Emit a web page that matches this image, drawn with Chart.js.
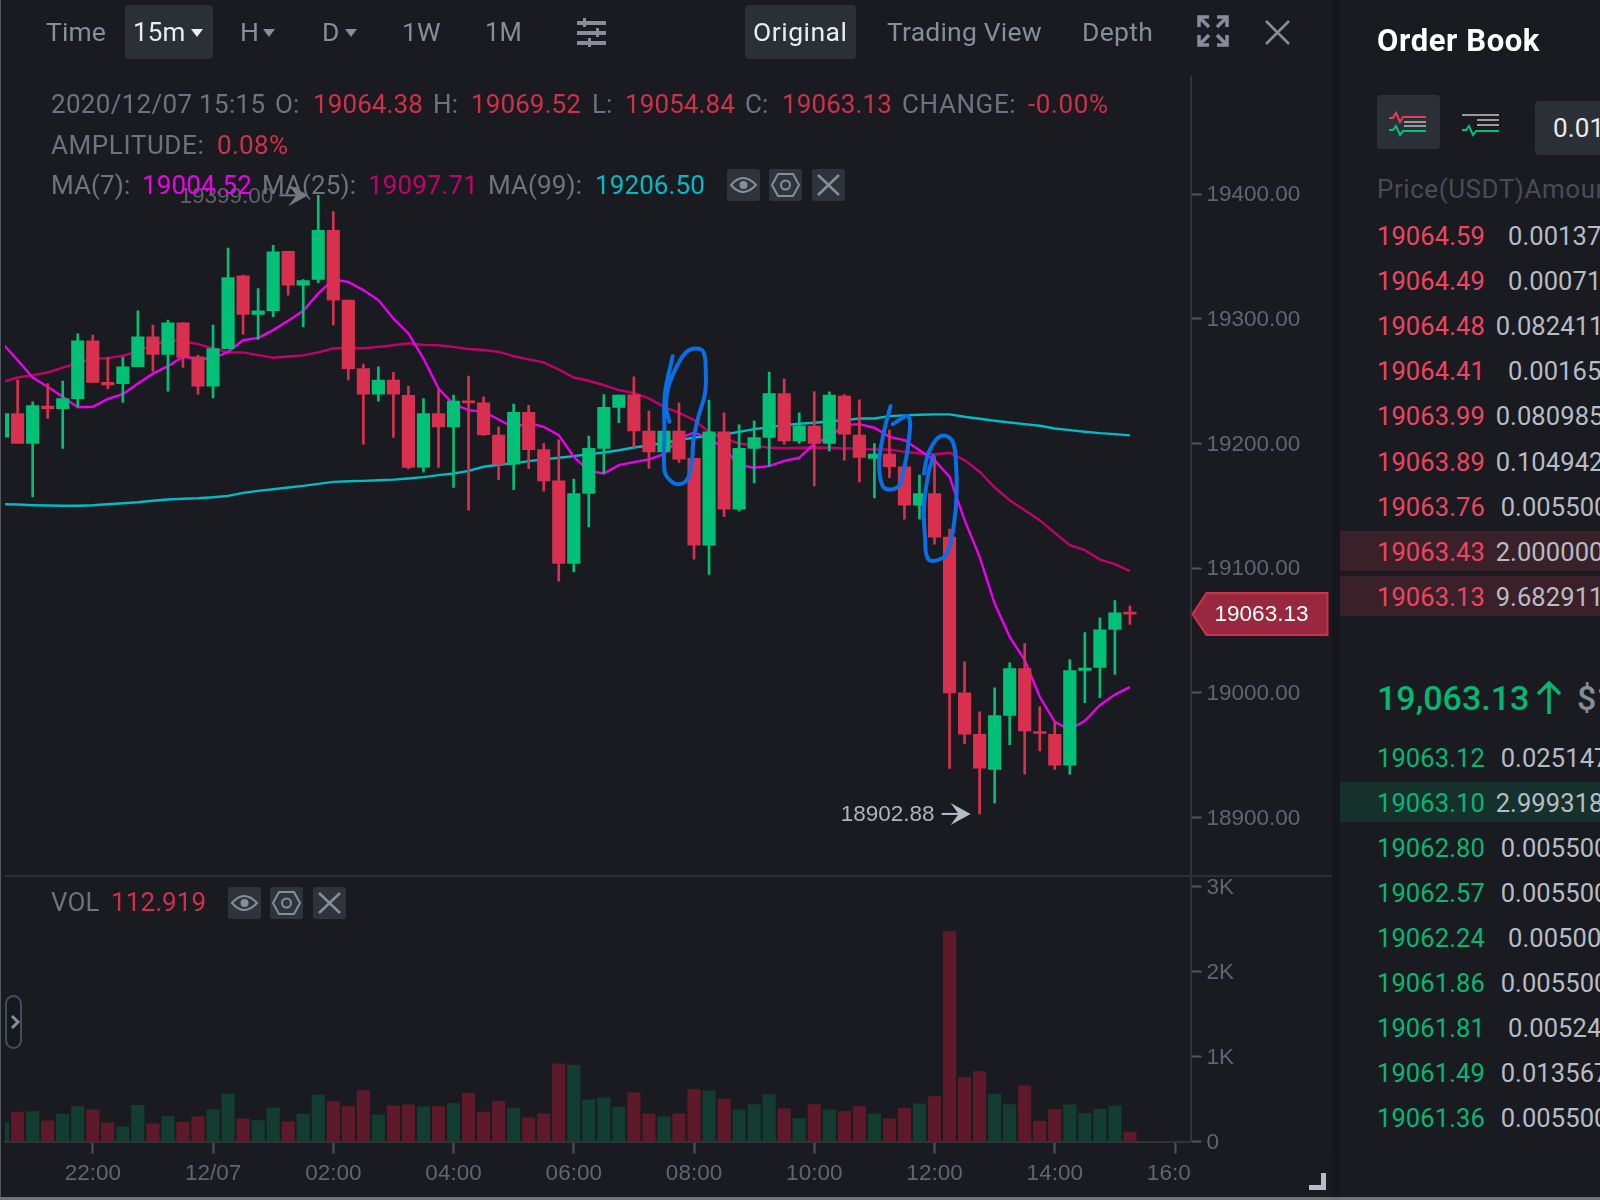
<!DOCTYPE html>
<html>
<head>
<meta charset="utf-8">
<style>
html,body{margin:0;padding:0;background:#191b21;width:1600px;height:1200px;overflow:hidden}
#stage{position:relative;width:1600px;height:1200px;overflow:hidden;font-family:Roboto,sans-serif}
#myChart{position:absolute;left:0;top:0}
.t{position:absolute;white-space:nowrap;line-height:40px;height:40px}
.abs{position:absolute}
</style>
</head>
<body>
<div id="stage">
<canvas id="myChart" width="1340" height="1200"></canvas>
</div>
<script src="https://cdn.jsdelivr.net/npm/chart.js@4"></script>
<script>
// candles, 15m, 2020/12/06 20:30 -> 2020/12/07 15:15
const candleOpen = [19205,19224,19200,19230,19228,19236,19282.3,19249,19248,19261.5,19285.5,19271.4,19296.7,19269.5,19246,19276,19334.5,19303.4,19306.4,19354,19327,19331.5,19371,19315,19260,19239.5,19250.8,19238.5,19181,19224,19213.3,19234,19232.6,19206.7,19183.4,19225,19195,19170,19103.7,19159.9,19196,19228.9,19239,19210,19193.3,19210,19188,19118.4,19209.3,19147.3,19196,19204.8,19240,19202,19213.9,19200,19238,19206.7,19188,19191.4,19181.3,19150.5,19159.9,19124.9,19000,18966.8,18938.5,18981.8,19019.5,18968.7,18966.8,18942,19017.9,19020.3,19050.8,19064.38]
const candleHigh = [19224,19250.8,19233.4,19248,19250,19288,19287,19269,19269,19306.4,19295,19299,19296.7,19270.8,19295,19356.6,19335,19324.3,19358.8,19354,19331.5,19399,19386,19315,19263.6,19261.5,19257,19246,19236,19243,19238.8,19254,19237.4,19213.3,19231.5,19230.5,19200,19203,19171.4,19205.9,19239.3,19238.8,19253.5,19226,19210,19232.6,19188,19234.7,19224.6,19215,19218.2,19257.2,19251.6,19224.6,19241.7,19241.4,19239.3,19235,19200,19210.7,19181.8,19174.6,19189.8,19131.3,19024.8,18984.7,19004,19024,19039.6,18988.7,18976.7,19026.7,19048.4,19060.1,19074,19069.52]
const candleLow = [19205,19200,19157.2,19220,19196,19229.4,19249,19244,19233,19261.5,19258,19242,19261,19239.5,19236.6,19276,19287.7,19283.4,19301.6,19319,19293.5,19329,19295,19251,19199.4,19234,19204.8,19179.6,19177,19180.7,19164.7,19146.5,19206.4,19171,19163,19179.7,19161.8,19089.5,19097,19133,19176,19216.6,19196.8,19180,19193.3,19184.7,19107.2,19094.9,19141.2,19145.7,19168.4,19181.8,19199.4,19200,19166,19194,19186.6,19169.2,19156.4,19172.5,19139.3,19139.3,19119.2,18939.3,18959.3,18902.88,18911.7,18958.5,18934.7,18953.4,18938.5,18934.7,18992.2,18996.2,19014.7,19054.84]
const candleClose = [19224,19200,19230.4,19228,19236,19282.3,19249,19247,19261.5,19285.5,19271.4,19296.7,19269,19246,19276,19333,19303.4,19306.4,19353.7,19327,19330.7,19371,19315,19260,19239.5,19250.8,19239.5,19180.7,19224,19213.3,19234,19232.6,19207,19183.4,19225,19195,19170,19103.7,19159.9,19196,19228.9,19238.8,19210,19193.3,19210,19187.4,19118.4,19209.3,19147.3,19196,19204.8,19240,19202,19213.9,19200,19238.8,19207.5,19188.8,19191.4,19181.3,19150.5,19159.9,19124.9,19000,18966.8,18939.6,18981.8,19019.5,18969.5,18967.4,18942,19017.9,19019.8,19050.5,19064.2,19063.13]
const volumes = [223,345,353,243,321,412,372,220,172,427,208,294,227,290,376,557,267,247,396,231,321,545,470,415,600,314,419,431,408,412,447,568,345,474,392,278,325,913,898,490,513,404,572,325,290,325,611,596,498,372,435,553,384,274,435,372,353,412,325,267,392,443,529,2469,753,823,557,435,655,239,376,431,329,380,419,110]
const ma7 = [19280,19266.8,19252.9,19245.4,19237.4,19229.1,19229.4,19235.8,19239.5,19248,19256,19262,19269.5,19268,19268,19273.5,19282.8,19284.7,19290.9,19298.4,19306.4,19320.3,19331.5,19329.6,19323,19315,19300.2,19288.2,19268.1,19244,19231.5,19226.7,19225.4,19219.2,19212.8,19216.6,19213.4,19206.7,19189.3,19178,19175.9,19182.6,19185,19187.2,19191.4,19204,19208.8,19204,19196,19182.6,19180.5,19181.8,19186,19188.5,19200,19205,19214.7,19215.5,19212.6,19205.3,19202.7,19194.6,19186.6,19173.3,19138.5,19109.1,19071.6,19044.9,19026.2,18996.8,18976.7,18970.6,18977.5,18990.1,18998.6,19004.52]
const ma25 = [19249.4,19252.9,19254.8,19256.9,19260.9,19264.7,19268.1,19268.4,19270.3,19274,19278.8,19282.8,19282.3,19279.6,19276.2,19273,19273,19270.8,19268.7,19269.7,19270.6,19273,19276.2,19276.7,19276.4,19277.5,19278.8,19280.4,19279.1,19278.8,19277.5,19275.7,19274.9,19273.5,19270,19267.4,19265,19259.3,19252.9,19250.3,19246.8,19242.8,19240.6,19236.1,19229.4,19224.6,19218.7,19209.3,19204,19200,19198.6,19196.5,19196.2,19196.5,19196.8,19196.5,19196,19196,19195.2,19195.2,19193.3,19192,19191.4,19192.5,19186.6,19177.3,19164.7,19154.5,19146.5,19138.5,19128.3,19118.4,19114.4,19106.9,19103.2,19097.71]
const ma99 = [19151.3,19151,19150.5,19150.2,19150,19150,19150.5,19151.3,19152.1,19152.9,19154,19155,19155.6,19156.1,19156.9,19158,19160.4,19162,19163.3,19164.7,19166,19167.6,19169.2,19169.7,19170,19170.5,19171,19171.9,19173,19174.6,19175.9,19178,19181.3,19182.9,19184,19185.8,19187.2,19188.5,19189.8,19191.4,19192.8,19194.6,19196.8,19198.4,19200.5,19202.7,19204.8,19205.9,19207.2,19209.3,19211.5,19213.1,19214.7,19215.8,19216.6,19217.6,19218.7,19220,19220,19221.9,19222.5,19223,19223.3,19223.3,19221.4,19219.8,19218.2,19216.8,19215.5,19214.2,19212,19210.7,19209.4,19208.3,19207.5,19206.5]

// hand drawn blue marks, in candle index and price
const scribble1X = [44.36,44.14,44.29,44.96,45.51,46.07,46.62,46.78,46.73,46.29,45.96,45.85,45.51,44.85,44.29,44.03,44.03,44.07,44.58]
const scribble1Y = [19217.4,19229.4,19245.4,19264.2,19273.5,19276.2,19273.5,19258.8,19240.1,19221.4,19202.7,19183.9,19170.6,19167.4,19171.9,19178.6,19210.7,19240.1,19270]
const scribble2X = [59.08,58.71,58.37,58.33,58.59,59.15,59.66,59.97,60.26,60.26,59.22]
const scribble2Y = [19230,19213.4,19192,19178.6,19165.2,19163.1,19166.6,19179.9,19200,19221.4,19215.5]
const scribble3X = [61.3,61.48,61.74,62.25,62.81,63.25,63.43,63.47,63.3,62.92,62.48,61.59,61.37,61.3,61.59,61.92]
const scribble3Y = [19175.9,19188,19196,19204.8,19205.9,19200,19184,19159.9,19135.8,19114.4,19107.7,19107.2,19125.1,19149.2,19175.9,19189.8]

const xTickIndex = [6,14,22,30,38,46,54,62,70,78]
const xTickLabels = ['22:00','12/07','02:00','04:00','06:00','08:00','10:00','12:00','14:00','16:00']
const priceTicks = [18900,19000,19100,19200,19300,19400]
const volTicks = [0,1000,2000,3000]
const volTickLabels = ['0','1K','2K','3K']

const askPrices = ['19064.59','19064.49','19064.48','19064.41','19063.99','19063.89','19063.76','19063.43','19063.13']
const askAmounts = ['0.00137','0.00071','0.082411','0.00165','0.080985','0.104942','0.005500','2.000000','9.682911']
const bidPrices = ['19063.12','19063.10','19062.80','19062.57','19062.24','19061.86','19061.81','19061.49','19061.36']
const bidAmounts = ['0.025147','2.999318','0.005500','0.005500','0.00500','0.005500','0.00524','0.013567','0.005500']

const RED = '#da304f'
const GREEN = '#02c076'
const VOL_RED = '#5e1a2a'
const VOL_GREEN = '#143d31'
const AXIS = '#2f333a'
const TICK = '#50555d'
const TICK_TXT = '#5e6673'
const FONT = '"Liberation Sans", Arial, sans-serif'

const isUp = i => candleClose[i] >= candleOpen[i]
const pts = (xs, ys) => xs.map((x, i) => ({x: x, y: ys[i]}))
const idx = candleOpen.map((v, i) => i)

function lineDs(values, color, width) {
  return {type: 'line', data: pts(idx, values), borderColor: color, borderWidth: width,
    pointRadius: 0, tension: 0, yAxisID: 'y', order: 3}
}
function scribbleDs(xs, ys) {
  return {type: 'line', data: pts(xs, ys), borderColor: '#0a6fe6', borderWidth: 4,
    pointRadius: 0, tension: 0.4, yAxisID: 'y', order: 0, borderCapStyle: 'round', borderJoinStyle: 'round'}
}

// high / low notes, current price tag, clipped end of the time axis
const overlay = {
  id: 'overlay',
  afterDraw(chart) {
    const c = chart.ctx, xs = chart.scales.x, ys = chart.scales.y
    const last = candleClose.length - 1

    // 16:00 label is cut by the price axis
    c.fillStyle = '#191b21'
    c.fillRect(xs.right + 1, xs.top + 16, 140, 50)

    function arrow(tipX, y, color) {
      c.strokeStyle = color
      c.fillStyle = color
      c.lineWidth = 2
      c.beginPath(); c.moveTo(tipX - 29, y); c.lineTo(tipX - 8, y); c.stroke()
      c.beginPath(); c.moveTo(tipX, y); c.lineTo(tipX - 20, y - 11); c.lineTo(tipX - 12, y); c.lineTo(tipX - 20, y + 11); c.closePath(); c.fill()
    }
    c.font = '22.5px ' + FONT
    c.textBaseline = 'middle'
    c.textAlign = 'right'

    const hiIdx = candleHigh.indexOf(Math.max(...candleHigh))
    const hiY = ys.getPixelForValue(candleHigh[hiIdx])
    const hiTip = xs.getPixelForValue(hiIdx) - 10
    arrow(hiTip, hiY, '#75787e')
    c.fillStyle = '#5f6369'
    c.fillText(candleHigh[hiIdx].toFixed(2), hiTip - 35, hiY + 1)

    const loIdx = candleLow.indexOf(Math.min(...candleLow))
    const loY = ys.getPixelForValue(candleLow[loIdx])
    const loTip = xs.getPixelForValue(loIdx) - 9
    arrow(loTip, loY, '#b7bdc6')
    c.fillStyle = '#b0b4ba'
    c.fillText(candleLow[loIdx].toFixed(2), loTip - 36, loY + 1)

    const y = ys.getPixelForValue(candleClose[last])
    const x0 = xs.right + 2
    c.beginPath()
    c.moveTo(x0, y); c.lineTo(x0 + 14, y - 21); c.lineTo(x0 + 135, y - 21)
    c.lineTo(x0 + 135, y + 21); c.lineTo(x0 + 14, y + 21); c.closePath()
    c.fillStyle = '#98283f'
    c.fill()
    c.strokeStyle = '#cf304a'
    c.lineWidth = 2
    c.stroke()
    c.fillStyle = '#ffffff'
    c.textAlign = 'center'
    c.fillText(candleClose[last].toFixed(2), x0 + 69, y + 1)
  }
}

const ctx = document.getElementById('myChart')
new Chart(ctx, {
  data: {
    datasets: [
      scribbleDs(scribble1X, scribble1Y),
      scribbleDs(scribble2X, scribble2Y),
      scribbleDs(scribble3X, scribble3Y),
      {type: 'bar', data: idx.map(i => ({x: i, y: [candleOpen[i], candleClose[i]]})),
        backgroundColor: idx.map(i => isUp(i) ? GREEN : RED), barThickness: 12.5, minBarLength: 2,
        grouped: false, yAxisID: 'y', order: 1},
      {type: 'bar', data: idx.map(i => ({x: i, y: [candleLow[i], candleHigh[i]]})),
        backgroundColor: idx.map(i => isUp(i) ? GREEN : RED), barThickness: 2,
        grouped: false, yAxisID: 'y', order: 2},
      lineDs(ma7, '#ee00ee', 2.4),
      lineDs(ma25, '#c4006c', 2.4),
      lineDs(ma99, '#00bcc4', 2.4),
      {type: 'bar', data: idx.map(i => ({x: i, y: volumes[i]})),
        backgroundColor: idx.map(i => isUp(i) ? VOL_GREEN : VOL_RED), barThickness: 12.5,
        grouped: false, yAxisID: 'yVol', order: 4}
    ]
  },
  options: {
    responsive: false,
    animation: false,
    devicePixelRatio: 1,
    layout: {padding: {left: 5, top: 77, right: 0, bottom: 0}},
    plugins: {legend: {display: false}, tooltip: {enabled: false}},
    scales: {
      x: {
        type: 'linear', min: 0.16, max: 79.03, offset: false,
        afterBuildTicks: s => { s.ticks = xTickIndex.map(v => ({value: v})) },
        afterFit: s => { s.height = 58.5 },
        border: {display: true, color: AXIS, width: 2},
        grid: {display: true, offset: false, drawOnChartArea: false, drawTicks: true, tickLength: 12, tickWidth: 2, color: TICK},
        ticks: {autoSkip: false, maxRotation: 0, padding: 7, color: TICK_TXT, font: {family: FONT, size: 22.5},
          callback: (v, i) => xTickLabels[i]}
      },
      y: {
        type: 'linear', position: 'right', stack: 'panes', stackWeight: 799.5, min: 18852.7, max: 19493.9,
        afterBuildTicks: s => { s.ticks = priceTicks.map(v => ({value: v})) },
        afterFit: s => { s.width = 149.5 },
        border: {display: true, color: AXIS, width: 2},
        grid: {display: true, drawOnChartArea: false, drawTicks: true, tickLength: 11, tickWidth: 2, color: TICK},
        ticks: {autoSkip: false, padding: 5, labelOffset: 1, color: TICK_TXT, font: {family: FONT, size: 22.5},
          callback: v => v.toFixed(2)}
      },
      yVol: {
        type: 'linear', position: 'right', stack: 'panes', stackWeight: 265, min: 0, max: 3118,
        afterBuildTicks: s => { s.ticks = volTicks.map(v => ({value: v})) },
        afterFit: s => { s.width = 149.5 },
        border: {display: true, color: AXIS, width: 2},
        grid: {display: true, drawOnChartArea: false, drawTicks: true, tickLength: 11, tickWidth: 2, color: TICK},
        ticks: {autoSkip: false, padding: 5, labelOffset: 1, color: TICK_TXT, font: {family: FONT, size: 22.5},
          callback: (v, i) => volTickLabels[i]}
      }
    }
  },
  plugins: [overlay]
})

// page chrome around the chart
const stage = document.getElementById('stage')
function txt(x, y, s, color, size, extra) {
  const d = document.createElement('div')
  d.className = 't'
  d.textContent = s
  d.style.cssText = 'left:' + x + 'px;top:' + (y - 20) + 'px;color:' + color + ';font-size:' + size + 'px;' + (extra || '')
  stage.appendChild(d)
  return d
}
function block(x, y, w, h, color, extra) {
  const d = document.createElement('div')
  d.className = 'abs'
  d.style.cssText = 'left:' + x + 'px;top:' + y + 'px;width:' + w + 'px;height:' + h + 'px;background:' + color + ';' + (extra || '')
  stage.appendChild(d)
  return d
}
function svg(x, y, w, h, inner) {
  const d = document.createElement('div')
  d.className = 'abs'
  d.style.cssText = 'left:' + x + 'px;top:' + y + 'px;width:' + w + 'px;height:' + h + 'px'
  d.innerHTML = '<svg xmlns="http://www.w3.org/2000/svg" width="' + w + '" height="' + h + '" viewBox="0 0 ' + w + ' ' + h + '">' + inner + '</svg>'
  stage.appendChild(d)
}

const GREY = '#848e9c'
const LBL = '#6c7480'
const TXT_RED = '#cf304a'
const SP = 'letter-spacing:.1px;'
const WIDE = 'letter-spacing:.6px;'

// edges and dividers
block(0, 0, 1, 1200, '#55585e')
block(0, 1197, 1600, 3, '#6f7277')
block(5, 875, 1327, 2, '#2b2f36')
block(1332, 0, 8, 1197, '#16171c')

// toolbar
block(124.6, 5, 88.4, 54, '#2b2f36', 'border-radius:4px')
block(744.5, 5, 111.5, 54, '#2b2f36', 'border-radius:4px')
txt(46, 32, 'Time', GREY, 26.5, SP)
txt(133, 32, '15m', '#eaecef', 26, SP)
txt(240, 32, 'H', GREY, 26.5)
txt(322, 32, 'D', GREY, 26.5)
txt(402, 32, '1W', GREY, 26.5, SP)
txt(485, 32, '1M', GREY, 25.5, SP)
txt(753, 32, 'Original', '#eaecef', 26.5, 'letter-spacing:.5px;')
txt(887, 32, 'Trading View', GREY, 26.5, 'letter-spacing:.2px;')
txt(1082, 32, 'Depth', GREY, 26.5, 'letter-spacing:.3px;')
svg(190, 23, 14, 10, '<path d="M1 1H13L7 9Z" fill="#eaecef"/>')
svg(262, 23, 14, 10, '<path d="M1 1H13L7 9Z" fill="' + GREY + '"/>')
svg(344, 23, 14, 10, '<path d="M1 1H13L7 9Z" fill="' + GREY + '"/>')
svg(576, 17, 32, 30, '<g fill="' + GREY + '"><rect x="1" y="4" width="29" height="4"/><rect x="1" y="14" width="29" height="4"/><rect x="1" y="24" width="29" height="4"/><rect x="7" y="1" width="3" height="9"/><rect x="20" y="11" width="3" height="9"/><rect x="12" y="21" width="3" height="9"/></g>')
svg(1197, 15, 32, 32, '<g fill="none" stroke="' + GREY + '" stroke-width="3.5"><path d="M2 12V2H12"/><path d="M20 2H30V12"/><path d="M2 20V30H12"/><path d="M30 20V30H20"/><path d="M3 3L12 12"/><path d="M29 3L20 12"/><path d="M3 29L12 20"/><path d="M29 29L20 20"/></g>')
svg(1264, 19, 27, 27, '<path d="M2 2L25 25M25 2L2 25" stroke="' + GREY + '" stroke-width="2.5"/>')

// legend rows
const row1 = [[51,'2020/12/07 15:15',LBL,'letter-spacing:.3px;'],[275,'O:',LBL,SP],[313,'19064.38',TXT_RED,SP],[433,'H:',LBL,SP],[471,'19069.52',TXT_RED,SP],[592,'L:',LBL,SP],[625,'19054.84',TXT_RED,SP],[745,'C:',LBL,SP],[782,'19063.13',TXT_RED,SP],[902,'CHANGE:',LBL,WIDE],[1028,'-0.00%',TXT_RED,WIDE]]
row1.forEach(r => txt(r[0], 104, r[1], r[2], 26, r[3]))
txt(51, 145, 'AMPLITUDE:', LBL, 26, WIDE)
txt(217, 145, '0.08%', TXT_RED, 26, 'letter-spacing:.3px;')
const row3 = [[51,'MA(7):',LBL],[142,'19004.52','#ee00ee'],[262,'MA(25):',LBL],[368,'19097.71','#c4006c'],[488,'MA(99):',LBL],[595,'19206.50','#00bcc4']]
row3.forEach(r => txt(r[0], 185, r[1], r[2], 26, SP))
txt(51, 902, 'VOL', LBL, 26, SP)
txt(111, 902, '112.919', TXT_RED, 26, SP)

function iconButtons(x, y) {
  block(x, y, 33, 32, '#2f343b', 'border-radius:3px')
  block(x + 42, y, 33, 32, '#2f343b', 'border-radius:3px')
  block(x + 85, y, 33, 32, '#2f343b', 'border-radius:3px')
  const s = '#848e9c'
  svg(x, y, 33, 32, '<path d="M4 16Q16 2 29 16Q16 30 4 16Z" fill="none" stroke="' + s + '" stroke-width="2"/><circle cx="16.5" cy="16" r="4" fill="' + s + '"/>')
  svg(x + 42, y, 33, 32, '<path d="M9 5H24L30 16L24 27H9L3 16Z" fill="none" stroke="' + s + '" stroke-width="2"/><circle cx="16.5" cy="16" r="4.5" fill="none" stroke="' + s + '" stroke-width="2"/>')
  svg(x + 85, y, 33, 32, '<path d="M6 6L27 26M27 6L6 26" stroke="' + s + '" stroke-width="2.5"/>')
}
iconButtons(727, 169)
iconButtons(228, 887)

// side handle and resize corner
block(5, 995, 17, 54, '#141821', 'border:2px solid #474d57;border-radius:9px;box-sizing:border-box')
svg(9, 1014, 12, 16, '<path d="M3 2L9 8L3 14" fill="none" stroke="#848e9c" stroke-width="3"/>')
svg(1309, 1173, 17, 17, '<path d="M0 14.5H14.5V0" fill="none" stroke="#b7bdc6" stroke-width="5"/>')

// order book
txt(1377, 41, 'Order Book', '#ffffff', 31, 'font-weight:700;letter-spacing:.6px;')
block(1377, 95, 63, 54, '#2b2f36', 'border-radius:4px')
block(1535, 101, 80, 54, '#2b2f36', 'border-radius:4px')
svg(1388, 106, 40, 32, '<path d="M1 12H5L8 7L12 16L15 11H38" fill="none" stroke="#e0405a" stroke-width="2"/><path d="M1 24H5L8 20L12 29L15 25H38" fill="none" stroke="#02c076" stroke-width="2"/><path d="M16 16H38M16 20H38" stroke="#9a9a9a" stroke-width="2"/>')
svg(1461, 106, 40, 32, '<path d="M1 9H38M16 14H38M16 19H38" stroke="#9a9a9a" stroke-width="2"/><path d="M1 24H5L8 20L12 29L15 25H38" fill="none" stroke="#02c076" stroke-width="2"/>')
txt(1553, 128, '0.01', '#eaecef', 26, SP)
txt(1377, 189, 'Price(USDT)Amount', '#474d57', 26, 'letter-spacing:.55px;')

const askRed = '#ee4560'
const bookGreen = '#02b972'
const amtColor = '#b7bdc6'
const askAmountLeft = [1508,1508,1495.7,1508,1495.7,1495.7,1500.7,1495.7,1495.7]
const bidAmountLeft = [1500.7,1495.7,1500.7,1500.7,1508,1500.7,1508,1500.7,1500.7]
block(1340, 531, 260, 40, '#3a2129')
block(1340, 576, 260, 40, '#3a2129')
askPrices.forEach((p, i) => {
  const y = 236 + i * 45.1
  txt(1377, y, p, askRed, 25.5, SP)
  txt(askAmountLeft[i], y, askAmounts[i], amtColor, 25.5, SP)
})
block(1340, 782, 260, 40, '#16312c')
bidPrices.forEach((p, i) => {
  const y = 757.5 + i * 45.1
  txt(1377, y, p, bookGreen, 25.5, SP)
  txt(bidAmountLeft[i], y, bidAmounts[i], amtColor, 25.5, SP)
})
txt(1377, 698, '19,063.13', bookGreen, 34, 'font-weight:500;')
svg(1536, 680, 26, 36, '<path d="M13 34V3M2 14L13 3L24 14" fill="none" stroke="#02b972" stroke-width="3.5"/>')
txt(1577, 698, '$1', '#848e9c', 34, 'font-weight:500;')
</script>
</body>
</html>
